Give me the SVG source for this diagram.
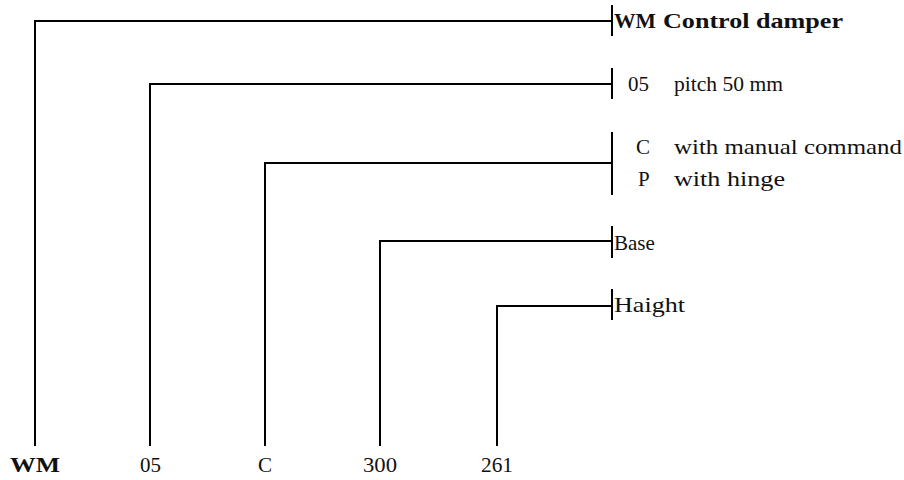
<svg xmlns="http://www.w3.org/2000/svg" width="904" height="480" viewBox="0 0 904 480">
<style>
text{font-family:"Liberation Serif","DejaVu Serif",serif;font-size:21px;fill:#111}
.b{font-weight:bold}
.m{text-anchor:middle}
.ln{fill:none;stroke:#000;stroke-width:2}
</style>
<rect width="904" height="480" fill="#fff"/>
<g id="connectors" class="ln">
<polyline points="35,446 35,21 612,21"/>
<polyline points="150,446 150,84 612,84"/>
<polyline points="265,446 265,163 612,163"/>
<polyline points="380,446 380,241 612,241"/>
<polyline points="497,446 497,306 612,306"/>
<line x1="612" y1="5" x2="612" y2="36"/>
<line x1="612" y1="68" x2="612" y2="99"/>
<line x1="612" y1="132" x2="612" y2="195"/>
<line x1="612" y1="226" x2="612" y2="258"/>
<line x1="612" y1="289" x2="612" y2="320"/>
</g>
<g id="code-wm"><text class="b" x="10" y="472" textLength="50" lengthAdjust="spacingAndGlyphs">WM</text></g>
<g id="code-05"><text x="140" y="472" textLength="21" lengthAdjust="spacingAndGlyphs">05</text></g>
<g id="code-c"><text class="m" x="265" y="472">C</text></g>
<g id="code-300"><text x="363" y="472" textLength="34" lengthAdjust="spacingAndGlyphs">300</text></g>
<g id="code-261"><text x="481" y="472" textLength="32" lengthAdjust="spacingAndGlyphs">261</text></g>
<g id="desc-wm"><text class="b" x="614" y="28" textLength="42" lengthAdjust="spacingAndGlyphs">WM</text><text class="b" x="663" y="28" textLength="180" lengthAdjust="spacingAndGlyphs">Control damper</text></g>
<g id="desc-05"><text x="628" y="91" textLength="21" lengthAdjust="spacingAndGlyphs">05</text><text x="674" y="91" textLength="109" lengthAdjust="spacingAndGlyphs">pitch 50 mm</text></g>
<g id="desc-c"><text x="636" y="154">C</text><text x="674" y="154" textLength="228" lengthAdjust="spacingAndGlyphs">with manual command</text><text x="638" y="186">P</text><text x="674" y="186" textLength="111" lengthAdjust="spacingAndGlyphs">with hinge</text></g>
<g id="desc-base"><text x="614" y="250">Base</text></g>
<g id="desc-haight"><text x="614" y="312" textLength="71" lengthAdjust="spacingAndGlyphs">Haight</text></g>
</svg>
